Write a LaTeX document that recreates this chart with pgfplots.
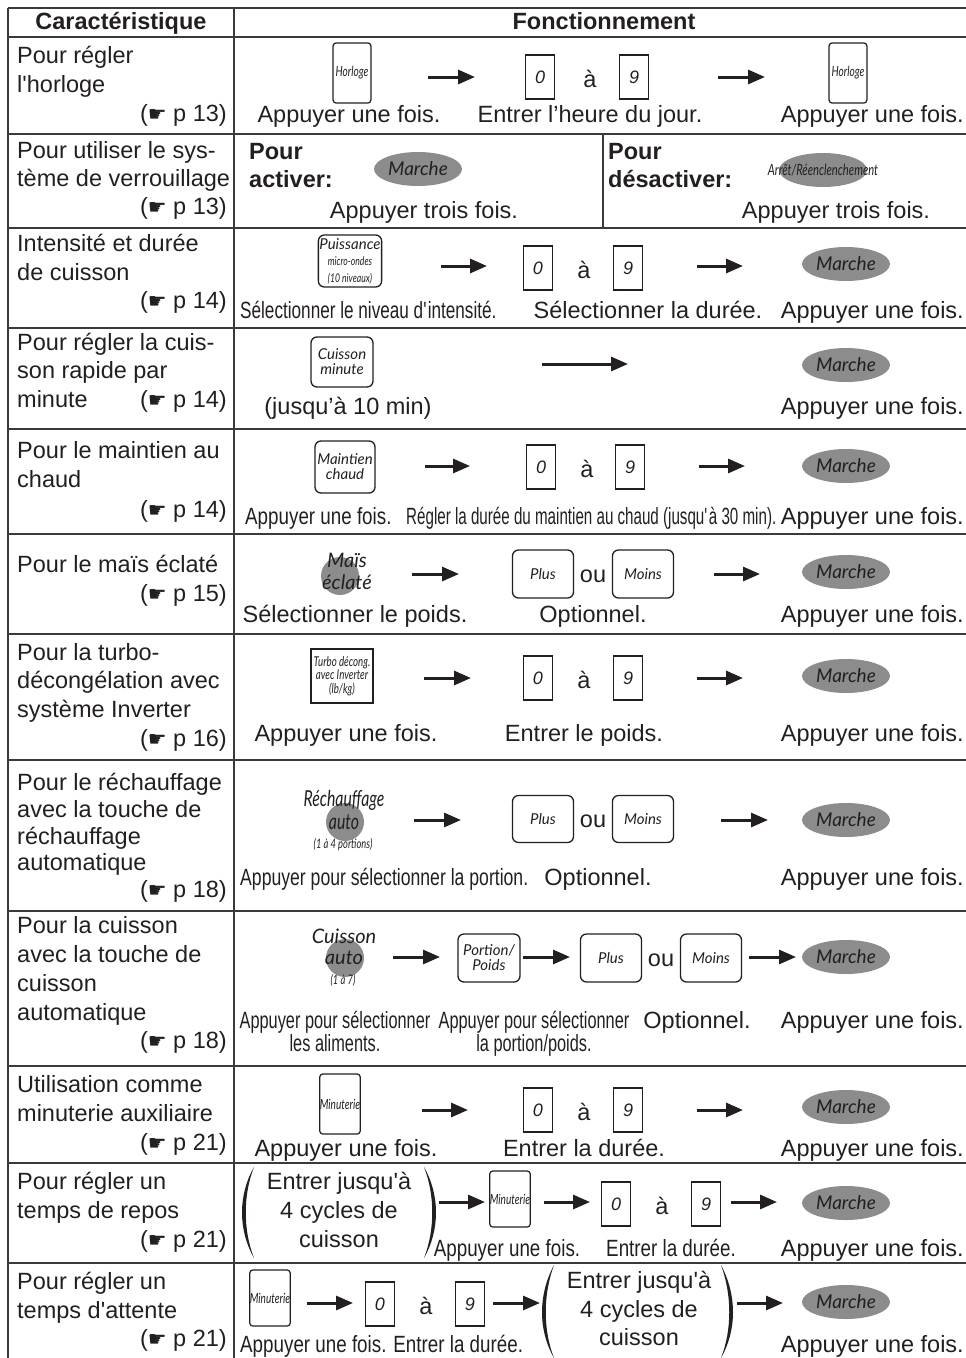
\documentclass[border=0pt]{standalone}
\usepackage{pgfplots}
\pgfplotsset{compat=1.18}
\usetikzlibrary{arrows.meta,shapes.geometric}
\usepackage{fontspec}
\setmainfont{Liberation Sans}
\newfontfamily\hand{DejaVu Sans}
\newfontfamily\cond[FakeStretch=0.73]{Liberation Sans}
\newfontfamily\condn[FakeStretch=0.695]{Liberation Sans}
\newfontfamily\condw[FakeStretch=0.75]{Liberation Sans}
\newfontfamily\condc[FakeStretch=0.645]{Liberation Sans}
\newfontfamily\condb[FakeStretch=0.8]{Liberation Sans}
\newfontfamily\btn{Lato}
\newfontfamily\btnc[FakeStretch=0.72]{Lato}
\definecolor{ink}{HTML}{231F20}
\definecolor{btngray}{HTML}{8C8C8C}
\definecolor{rule}{HTML}{3A3A3A}
\newcommand{\q}{\textquotesingle}
\newcommand{\fs}[1]{\fontsize{#1}{#1}\selectfont}
\tikzset{txt/.style={inner sep=0pt,text=ink,font=\fontsize{23.5}{28}\selectfont}}
\newcommand{\lc}[2]{\node[txt,anchor=base west] at (axis cs:17,#1) {#2};}
\newcommand{\pref}[2]{\node[txt,anchor=base east] at (axis cs:227,#1) {({\hand\fs{21}☛} p #2)};}
\newcommand{\ct}[3]{\node[txt,anchor=base] at (axis cs:#1,#2) {#3};}
\newcommand{\lt}[3]{\node[txt,anchor=base west] at (axis cs:#1,#2) {#3};}
\newcommand{\rt}[2]{\node[txt,anchor=base east] at (axis cs:964,#1) {#2};}
\newcommand{\mc}[3]{\node[txt] at (axis cs:#1,#2) {#3};}
\newcommand{\arr}[3]{\draw[ink,line width=3pt,-{Triangle[length=17pt,width=14pt]}] (axis cs:#1,#3) -- (axis cs:#2,#3);}
\newcommand{\marche}[2]{\node[ellipse,fill=btngray,minimum width=88pt,minimum height=34pt,inner sep=0pt,text=ink,font=\btn\itshape\fs{19}] at (axis cs:#1,#2) {Marche};}
\newcommand{\dig}[3]{\node[draw=ink,line width=1.2pt,minimum width=29pt,minimum height=44pt,inner sep=0pt,text=ink,font=\itshape\fs{18}] at (axis cs:#1,#2) {#3};}
\newcommand{\key}[5]{\node[draw=ink,line width=1.3pt,rounded corners=6pt,minimum width=#3pt,minimum height=#4pt,inner sep=1pt,align=center,text=ink,font=\btn\itshape\fs{15}] at (axis cs:#1,#2) {#5};}
\newcommand{\tall}[5]{\node[draw=ink,line width=1.2pt,rounded corners=3pt,minimum width=#3pt,minimum height=#4pt,inner sep=0pt,text=ink,font=\btnc\itshape\fs{14}] at (axis cs:#1,#2) {#5};}
\begin{document}
\begin{tikzpicture}
\begin{axis}[width=966pt,height=1358pt,scale only axis,xmin=0,xmax=966,ymin=0,ymax=1358,y dir=reverse,hide axis,clip=false]
% table rules
\addplot[rule,line width=2pt] coordinates {(8,8) (966,8)};
\addplot[rule,line width=2pt] coordinates {(8,37) (966,37)};
\addplot[rule,line width=2pt] coordinates {(8,134) (966,134)};
\addplot[rule,line width=2pt] coordinates {(8,228) (966,228)};
\addplot[rule,line width=2pt] coordinates {(8,328) (966,328)};
\addplot[rule,line width=2pt] coordinates {(8,429) (966,429)};
\addplot[rule,line width=2pt] coordinates {(8,534) (966,534)};
\addplot[rule,line width=2pt] coordinates {(8,634) (966,634)};
\addplot[rule,line width=2pt] coordinates {(8,760) (966,760)};
\addplot[rule,line width=2pt] coordinates {(8,911) (966,911)};
\addplot[rule,line width=2pt] coordinates {(8,1066) (966,1066)};
\addplot[rule,line width=2pt] coordinates {(8,1163) (966,1163)};
\addplot[rule,line width=2pt] coordinates {(8,1263) (966,1263)};
\addplot[rule,line width=2pt] coordinates {(8,8) (8,1358)};
\addplot[rule,line width=2pt] coordinates {(234,8) (234,1358)};
\addplot[rule,line width=1.5pt] coordinates {(603,134) (603,228)};
% header
\node[txt,anchor=base,font=\bfseries\fontsize{23.5}{28}\selectfont] at (axis cs:121,29) {Caractéristique};
\node[txt,anchor=base,font=\bfseries\fontsize{23.5}{28}\selectfont] at (axis cs:604,29) {Fonctionnement};
% left column
\lc{63}{Pour régler}\lc{92}{l\q horloge}\pref{121}{13}
\lc{158}{Pour utiliser le sys-}\lc{186}{tème de verrouillage}\pref{214}{13}
\lc{251}{Intensité et durée}\lc{280}{de cuisson}\pref{308}{14}
\lc{350}{Pour régler la cuis-}\lc{378}{son rapide par}\lc{407}{minute}\pref{407}{14}
\lc{458}{Pour le maintien au}\lc{487}{chaud}\pref{517}{14}
\lc{572}{Pour le maïs éclaté}\pref{601}{15}
\lc{660}{Pour la turbo-}\lc{688}{décongélation avec}\lc{717}{système Inverter}\pref{746}{16}
\lc{790}{Pour le réchauffage}\lc{817}{avec la touche de}\lc{844}{réchauffage}\lc{870}{automatique}\pref{897}{18}
\lc{933}{Pour la cuisson}\lc{962}{avec la touche de}\lc{991}{cuisson}\lc{1020}{automatique}\pref{1048}{18}
\lc{1092}{Utilisation comme}\lc{1121}{minuterie auxiliaire}\pref{1150}{21}
\lc{1189}{Pour régler un}\lc{1218}{temps de repos}\pref{1247}{21}
\lc{1289}{Pour régler un}\lc{1318}{temps d\q attente}\pref{1346}{21}
% row 1
\tall{352}{73}{38}{60}{Horloge}
\arr{428}{475}{77}
\dig{540}{77}{0}\mc{590}{79}{à}\dig{634}{77}{9}
\arr{718}{765}{77}
\tall{848}{73}{38}{60}{Horloge}
\ct{349}{122}{Appuyer une fois.}\ct{590}{122}{Entrer l’heure du jour.}\rt{122}{Appuyer une fois.}
% row 2
\lt{249}{159}{\bfseries Pour}\lt{249}{187}{\bfseries activer:}
\marche{418}{169}
\lt{608}{159}{\bfseries Pour}\lt{608}{187}{\bfseries désactiver:}
\node[ellipse,fill=btngray,minimum width=88pt,minimum height=34pt,inner sep=0pt] at (axis cs:823,170) {};
\node[inner sep=0pt,text=ink,font=\btnc\itshape\fs{15.5}] at (axis cs:823,170) {Arrêt/Réenclenchement};
\ct{424}{218}{Appuyer trois fois.}\ct{836}{218}{Appuyer trois fois.}
% row 3
\key{350}{261}{62}{52}{{\fs{15}Puissance}\\[1pt]{\btnc\fs{12}micro-ondes}\\[2pt]{\btnc\fs{12}(10 niveaux)}}
\arr{441}{487}{266}
\dig{538}{268}{0}\mc{584}{270}{à}\dig{628}{268}{9}
\arr{697}{743}{266}
\marche{846}{264}
\lt{240}{318}{\cond Sélectionner le niveau d\q intensité.}\ct{648}{318}{Sélectionner la durée.}\rt{318}{Appuyer une fois.}
% row 4
\key{342}{362}{62}{50}{Cuisson\\minute}
\arr{542}{628}{364}
\marche{846}{365}
\ct{348}{414}{(jusqu’à 10 min)}\rt{414}{Appuyer une fois.}
% row 5
\key{345}{467}{60}{52}{Maintien\\chaud}
\arr{425}{470}{466}
\dig{541}{467}{0}\mc{587}{469}{à}\dig{630}{467}{9}
\arr{699}{745}{466}
\marche{846}{466}
\lt{245}{524}{\condb Appuyer une fois.}\lt{406}{524}{\condc Régler la durée du maintien au chaud (jusqu\q à 30 min).}\rt{524}{Appuyer une fois.}
% row 6
\fill[btngray] (axis cs:340,576) circle[radius=19pt];
\node[inner sep=0pt,text=ink,font=\btn\itshape\fs{20}] at (axis cs:347,560) {Maïs};
\node[inner sep=0pt,text=ink,font=\btn\itshape\fs{20}] at (axis cs:347,582) {éclaté};
\arr{412}{459}{574}
\key{543}{574}{61}{48}{Plus}\mc{593}{576}{ou}\key{643}{574}{61}{48}{Moins}
\arr{714}{760}{574}
\marche{846}{572}
\ct{355}{622}{Sélectionner le poids.}\ct{593}{622}{Optionnel.}\rt{622}{Appuyer une fois.}
% row 7
\node[draw=ink,line width=1.5pt,minimum width=62pt,minimum height=54pt,inner sep=1pt,align=center,text=ink,font=\btnc\itshape\fs{13.5}] at (axis cs:342,676) {Turbo décong.\\avec Inverter\\(lb/kg)};
\arr{424}{471}{678}
\dig{538}{678}{0}\mc{584}{680}{à}\dig{628}{678}{9}
\arr{697}{743}{678}
\marche{846}{676}
\ct{346}{741}{Appuyer une fois.}\ct{584}{741}{Entrer le poids.}\rt{741}{Appuyer une fois.}
% row 8
\fill[btngray] (axis cs:345,822) circle[radius=19pt];
\node[inner sep=0pt,text=ink,font=\btnc\itshape\fs{22}] at (axis cs:344,800) {Réchauffage};
\node[inner sep=0pt,text=ink,font=\btnc\itshape\fs{22}] at (axis cs:344,822) {auto};
\node[inner sep=0pt,text=ink,font=\btnc\itshape\fs{13}] at (axis cs:343,845) {(1 à 4 portions)};
\arr{414}{461}{820}
\key{543}{819}{61}{47}{Plus}\mc{593}{821}{ou}\key{643}{819}{61}{47}{Moins}
\arr{721}{768}{820}
\marche{846}{820}
\lt{240}{885}{\condw Appuyer pour sélectionner la portion.}\ct{598}{885}{Optionnel.}\rt{885}{Appuyer une fois.}
% row 9
\fill[btngray] (axis cs:345,958) circle[radius=19pt];
\node[inner sep=0pt,text=ink,font=\btn\itshape\fs{20}] at (axis cs:344,936) {Cuisson};
\node[inner sep=0pt,text=ink,font=\btn\itshape\fs{20}] at (axis cs:344,958) {auto};
\node[inner sep=0pt,text=ink,font=\btnc\itshape\fs{13}] at (axis cs:343,980) {(1 à 7)};
\arr{393}{440}{957}
\key{489}{958}{62}{48}{Portion/\\Poids}
\arr{523}{570}{957}
\key{611}{958}{61}{48}{Plus}\mc{661}{960}{ou}\key{711}{958}{61}{48}{Moins}
\arr{749}{796}{957}
\marche{846}{957}
\ct{335}{1028}{\condn Appuyer pour sélectionner}\ct{335}{1051}{\condn les aliments.}
\ct{534}{1028}{\condn Appuyer pour sélectionner}\ct{534}{1051}{\condn la portion/poids.}
\ct{697}{1028}{Optionnel.}\rt{1028}{Appuyer une fois.}
% row 10
\tall{340}{1104}{38}{60}{Minuterie}
\arr{422}{468}{1110}
\dig{538}{1110}{0}\mc{584}{1112}{à}\dig{628}{1110}{9}
\arr{697}{743}{1110}
\marche{846}{1107}
\ct{346}{1156}{Appuyer une fois.}\ct{584}{1156}{Entrer la durée.}\rt{1156}{Appuyer une fois.}
% row 11
\fill[ink] (axis cs:254,1167) .. controls (axis cs:238,1195) and (axis cs:238,1230) .. (axis cs:254,1258) .. controls (axis cs:243,1230) and (axis cs:243,1195) .. (axis cs:254,1167);
\fill[ink] (axis cs:424,1167) .. controls (axis cs:440,1195) and (axis cs:440,1230) .. (axis cs:424,1258) .. controls (axis cs:435,1230) and (axis cs:435,1195) .. (axis cs:424,1167);
\ct{339}{1189}{Entrer jusqu\q à}\ct{339}{1218}{4 cycles de}\ct{339}{1247}{cuisson}
\arr{439}{485}{1202}
\tall{510}{1199}{38}{56}{Minuterie}
\arr{544}{590}{1202}
\dig{616}{1204}{0}\mc{662}{1206}{à}\dig{706}{1204}{9}
\arr{731}{777}{1202}
\marche{846}{1203}
\ct{507}{1256}{\condb Appuyer une fois.}\ct{671}{1256}{\condb Entrer la durée.}\rt{1256}{Appuyer une fois.}
% row 12
\tall{270}{1298}{38}{56}{Minuterie}
\arr{307}{353}{1303}
\dig{380}{1304}{0}\mc{426}{1306}{à}\dig{470}{1304}{9}
\arr{493}{540}{1303}
\fill[ink] (axis cs:554,1265) .. controls (axis cs:538,1295) and (axis cs:538,1330) .. (axis cs:554,1358) .. controls (axis cs:543,1330) and (axis cs:543,1295) .. (axis cs:554,1265);
\fill[ink] (axis cs:721,1265) .. controls (axis cs:737,1295) and (axis cs:737,1330) .. (axis cs:721,1358) .. controls (axis cs:732,1330) and (axis cs:732,1295) .. (axis cs:721,1265);
\ct{639}{1288}{Entrer jusqu\q à}\ct{639}{1317}{4 cycles de}\ct{639}{1345}{cuisson}
\arr{737}{783}{1303}
\marche{846}{1302}
\lt{240}{1352}{\condb Appuyer une fois. Entrer la durée.}\rt{1352}{Appuyer une fois.}
\end{axis}
\pgfresetboundingbox
\path[use as bounding box] (current axis.south west) rectangle (current axis.north east);
\end{tikzpicture}
\end{document}
